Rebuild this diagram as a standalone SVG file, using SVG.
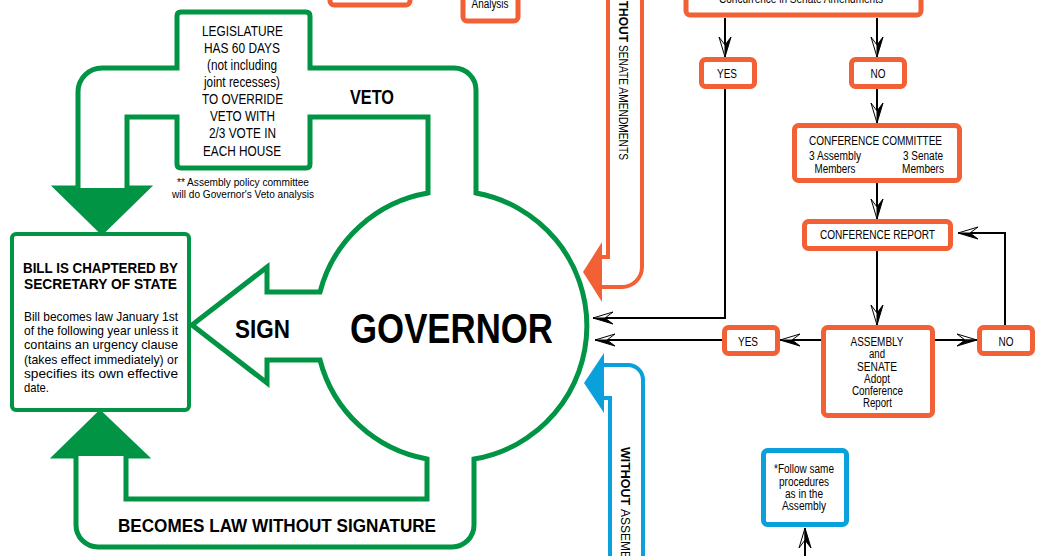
<svg xmlns="http://www.w3.org/2000/svg" width="1048" height="556" viewBox="0 0 1048 556">
<defs>
<style>
text{font-family:"Liberation Sans Narrow","Liberation Sans",Arial,sans-serif;fill:#000}
.b{font-weight:bold}
.m{text-anchor:middle}
.g{fill:#fff;stroke:#009444;stroke-width:5;stroke-linejoin:miter}
.o{fill:#fff;stroke:#F26135;stroke-width:5}
.bl{fill:#fff;stroke:#0AA0DC;stroke-width:5}
.ob{fill:none;stroke:#F26135;stroke-width:4}
.bb{fill:none;stroke:#0AA0DC;stroke-width:4}
.c{fill:none;stroke:#000;stroke-width:2}
.f12{font-size:12px}
</style>
<marker id="a1" markerUnits="userSpaceOnUse" viewBox="-22 -8 24 16" refX="0" refY="0" markerWidth="24" markerHeight="16" orient="auto">
<path d="M0,0 L-20,-6 L-12,0 Z" fill="#fff" stroke="#000" stroke-width="1"/>
<path d="M0,0 L-12,0 L-20,6 Z" fill="#000" stroke="#000" stroke-width="1"/>
</marker>
<marker id="a2" markerUnits="userSpaceOnUse" viewBox="-22 -8 24 16" refX="0" refY="0" markerWidth="24" markerHeight="16" orient="auto">
<path d="M0,0 L-20,-6 L-12,0 Z" fill="#000" stroke="#000" stroke-width="1"/>
<path d="M0,0 L-12,0 L-20,6 Z" fill="#fff" stroke="#000" stroke-width="1"/>
</marker>
</defs>
<rect width="1048" height="556" fill="#fff"/>

<g id="governor-flow">
<path class="g" d="M428,193 L428,117 L310,117 L310,164 Q310,168 306,168 L181,168 Q177,168 177,164 L177,117 L127,117 L127,188 L147,188 L102,232 L57,188 L78,188 L78,92 A24,24 0 0 1 102,68 L177,68 L177,16 Q177,12 181,12 L306,12 Q310,12 310,16 L310,68 L454,68 A22,22 0 0 1 476,90 L476,193 A135,135 0 0 1 474,459 L474,525 A22,22 0 0 1 452,547 L98,547 A22,22 0 0 1 76,525 L76,456 L56,456 L100,413 L145,456 L126,456 L126,499 L427,499 L427,459 A135,135 0 0 1 320,360 L267,360 L267,383 L192,325 L267,267 L267,292 L320,292 A135,135 0 0 1 428,193 Z"/>
<path d="M57,188 L147,188 L102,232 Z" fill="#009444"/>
<path d="M56,456 L145,456 L100,413 Z" fill="#009444"/>
</g>

<g id="governor">
<text class="b m" x="451.5" y="343" font-size="42" textLength="203" lengthAdjust="spacingAndGlyphs">GOVERNOR</text>
</g>

<g id="legislature">
<g font-size="14" class="m">
<text class="m" x="242.5" y="36" textLength="81" lengthAdjust="spacingAndGlyphs">LEGISLATURE</text>
<text class="m" x="242" y="53" textLength="76" lengthAdjust="spacingAndGlyphs">HAS 60 DAYS</text>
<text class="m" x="242" y="70" textLength="70" lengthAdjust="spacingAndGlyphs">(not including</text>
<text class="m" x="242" y="87" textLength="76" lengthAdjust="spacingAndGlyphs">joint recesses)</text>
<text class="m" x="242.5" y="104" textLength="81" lengthAdjust="spacingAndGlyphs">TO OVERRIDE</text>
<text class="m" x="242.5" y="121" textLength="65" lengthAdjust="spacingAndGlyphs">VETO WITH</text>
<text class="m" x="242.5" y="138" textLength="67" lengthAdjust="spacingAndGlyphs">2/3 VOTE IN</text>
<text class="m" x="242" y="156" textLength="78" lengthAdjust="spacingAndGlyphs">EACH HOUSE</text>
</g>
<text class="m" x="243" y="186" font-size="11" textLength="132" lengthAdjust="spacingAndGlyphs">** Assembly policy committee</text>
<text class="m" x="243" y="198" font-size="11" textLength="142" lengthAdjust="spacingAndGlyphs">will do Governor's Veto analysis</text>
</g>

<g id="labels-green">
<text class="b" x="350" y="104" font-size="20" textLength="44" lengthAdjust="spacingAndGlyphs">VETO</text>
<text class="b" x="235" y="338" font-size="25" textLength="55" lengthAdjust="spacingAndGlyphs">SIGN</text>
<text class="b" x="118" y="532" font-size="19" textLength="318" lengthAdjust="spacingAndGlyphs">BECOMES LAW WITHOUT SIGNATURE</text>
</g>

<g id="chaptered">
<rect x="12" y="234" width="177" height="176" rx="4" fill="#fff" stroke="#009444" stroke-width="4"/>
<text class="b m" x="100.5" y="273" font-size="14" textLength="155" lengthAdjust="spacingAndGlyphs">BILL IS CHAPTERED BY</text>
<text class="b m" x="100.5" y="289" font-size="14" textLength="153" lengthAdjust="spacingAndGlyphs">SECRETARY OF STATE</text>
<g font-size="13">
<text x="24" y="321" textLength="154" lengthAdjust="spacingAndGlyphs">Bill becomes law January 1st</text>
<text x="24" y="335" textLength="154" lengthAdjust="spacingAndGlyphs">of the following year unless it</text>
<text x="24" y="349" textLength="154" lengthAdjust="spacingAndGlyphs">contains an urgency clause</text>
<text x="24" y="364" textLength="154" lengthAdjust="spacingAndGlyphs">(takes effect immediately) or</text>
<text x="24" y="378" textLength="154" lengthAdjust="spacingAndGlyphs">specifies its own effective</text>
<text x="24" y="392" textLength="25" lengthAdjust="spacingAndGlyphs">date.</text>
</g>
</g>

<g id="without-senate">
<path class="ob" d="M608,-5 L608,257 L602,257 M642,-5 L642,267 A20,20 0 0 1 622,287 L602,287"/>
<path d="M583,272 L602,242 L602,302 Z" fill="#F26135"/>
<text class="b" transform="translate(619,-14) rotate(90)" font-size="12" textLength="56" lengthAdjust="spacingAndGlyphs">WITHOUT</text>
<text transform="translate(619,45) rotate(90)" font-size="12" textLength="115" lengthAdjust="spacingAndGlyphs">SENATE AMENDMENTS</text>
</g>

<g id="without-assembly">
<path class="bb" d="M604,365 L628,365 A15,15 0 0 1 643,380 L643,560 M604,398 L610,398 L610,560"/>
<path d="M584,383 L604,353 L604,413 Z" fill="#0AA0DC"/>
<text class="b" transform="translate(621,447) rotate(90)" font-size="12" textLength="58" lengthAdjust="spacingAndGlyphs">WITHOUT</text>
<text transform="translate(621,509) rotate(90)" font-size="12">ASSEMBLY AMENDMENTS</text>
</g>

<g id="box-top-left">
<rect class="o" x="330" y="-20" width="80" height="25" rx="4"/>
</g>
<g id="box-analysis">
<rect class="o" x="463" y="-20" width="55" height="41" rx="4"/>
<text class="m" x="490" y="8" font-size="12" textLength="37" lengthAdjust="spacingAndGlyphs">Analysis</text>
</g>
<g id="box-concurrence">
<rect class="o" x="686" y="-30" width="235" height="45" rx="4"/>
<text class="m" x="801" y="3" font-size="12" textLength="164" lengthAdjust="spacingAndGlyphs">Concurrence in Senate Amendments</text>
</g>
<g id="yes-top">
<rect class="o" x="701.5" y="59.5" width="53" height="27" rx="4"/>
<text class="m f12" x="727" y="77.5" textLength="20" lengthAdjust="spacingAndGlyphs">YES</text>
</g>
<g id="no-top">
<rect class="o" x="851.5" y="59.5" width="53" height="27" rx="4"/>
<text class="m f12" x="878" y="78" textLength="15" lengthAdjust="spacingAndGlyphs">NO</text>
</g>
<g id="conference-committee">
<rect class="o" x="794.5" y="125.5" width="165" height="55" rx="4"/>
<text class="m f12" x="875.5" y="145" textLength="133" lengthAdjust="spacingAndGlyphs">CONFERENCE COMMITTEE</text>
<text class="m f12" x="835" y="160" textLength="52" lengthAdjust="spacingAndGlyphs">3 Assembly</text>
<text class="m f12" x="835" y="173" textLength="41" lengthAdjust="spacingAndGlyphs">Members</text>
<text class="m f12" x="923" y="160" textLength="40" lengthAdjust="spacingAndGlyphs">3 Senate</text>
<text class="m f12" x="923" y="173" textLength="42" lengthAdjust="spacingAndGlyphs">Members</text>
</g>
<g id="conference-report">
<rect class="o" x="804.5" y="221.5" width="146" height="27" rx="4"/>
<text class="m f12" x="877.5" y="238.5" textLength="115" lengthAdjust="spacingAndGlyphs">CONFERENCE REPORT</text>
</g>
<g id="adopt">
<rect class="o" x="823.5" y="327.5" width="109" height="88" rx="4"/>
<text class="m f12" x="877" y="346" textLength="53" lengthAdjust="spacingAndGlyphs">ASSEMBLY</text>
<text class="m f12" x="877" y="358" textLength="16" lengthAdjust="spacingAndGlyphs">and</text>
<text class="m f12" x="877" y="371" textLength="40" lengthAdjust="spacingAndGlyphs">SENATE</text>
<text class="m f12" x="877" y="383" textLength="26" lengthAdjust="spacingAndGlyphs">Adopt</text>
<text class="m f12" x="877.5" y="395" textLength="51" lengthAdjust="spacingAndGlyphs">Conference</text>
<text class="m f12" x="877.5" y="407" textLength="29" lengthAdjust="spacingAndGlyphs">Report</text>
</g>
<g id="yes-bottom">
<rect class="o" x="724.5" y="327.5" width="53" height="26" rx="4"/>
<text class="m f12" x="748" y="346" textLength="20" lengthAdjust="spacingAndGlyphs">YES</text>
</g>
<g id="no-bottom">
<rect class="o" x="979.5" y="327.5" width="53" height="26" rx="4"/>
<text class="m f12" x="1006" y="346" textLength="15" lengthAdjust="spacingAndGlyphs">NO</text>
</g>
<g id="follow-same">
<rect class="bl" x="763.5" y="450.5" width="83" height="74" rx="4"/>
<text class="m f12" x="804" y="473" textLength="60" lengthAdjust="spacingAndGlyphs">*Follow same</text>
<text class="m f12" x="804" y="486" textLength="50" lengthAdjust="spacingAndGlyphs">procedures</text>
<text class="m f12" x="804" y="498" textLength="38" lengthAdjust="spacingAndGlyphs">as in the</text>
<text class="m f12" x="804" y="510" textLength="44" lengthAdjust="spacingAndGlyphs">Assembly</text>
</g>

<g id="connectors">
<path class="c" d="M725,18 L725,57" marker-end="url(#a2)"/>
<path class="c" d="M877,18 L877,57" marker-end="url(#a2)"/>
<path class="c" d="M877,89 L877,123" marker-end="url(#a2)"/>
<path class="c" d="M877,183 L877,219" marker-end="url(#a2)"/>
<path class="c" d="M877,251 L877,325" marker-end="url(#a2)"/>
<path class="c" d="M725,89 L725,318 L593,318" marker-end="url(#a2)"/>
<path class="c" d="M722,340 L595,340" marker-end="url(#a2)"/>
<path class="c" d="M821,340 L780,340" marker-end="url(#a2)"/>
<path class="c" d="M935,340 L977,340" marker-end="url(#a1)"/>
<path class="c" d="M1005,325 L1005,233 L958,233" marker-end="url(#a2)"/>
<path class="c" d="M805,560 L805,528" marker-end="url(#a1)"/>
</g>
</svg>
